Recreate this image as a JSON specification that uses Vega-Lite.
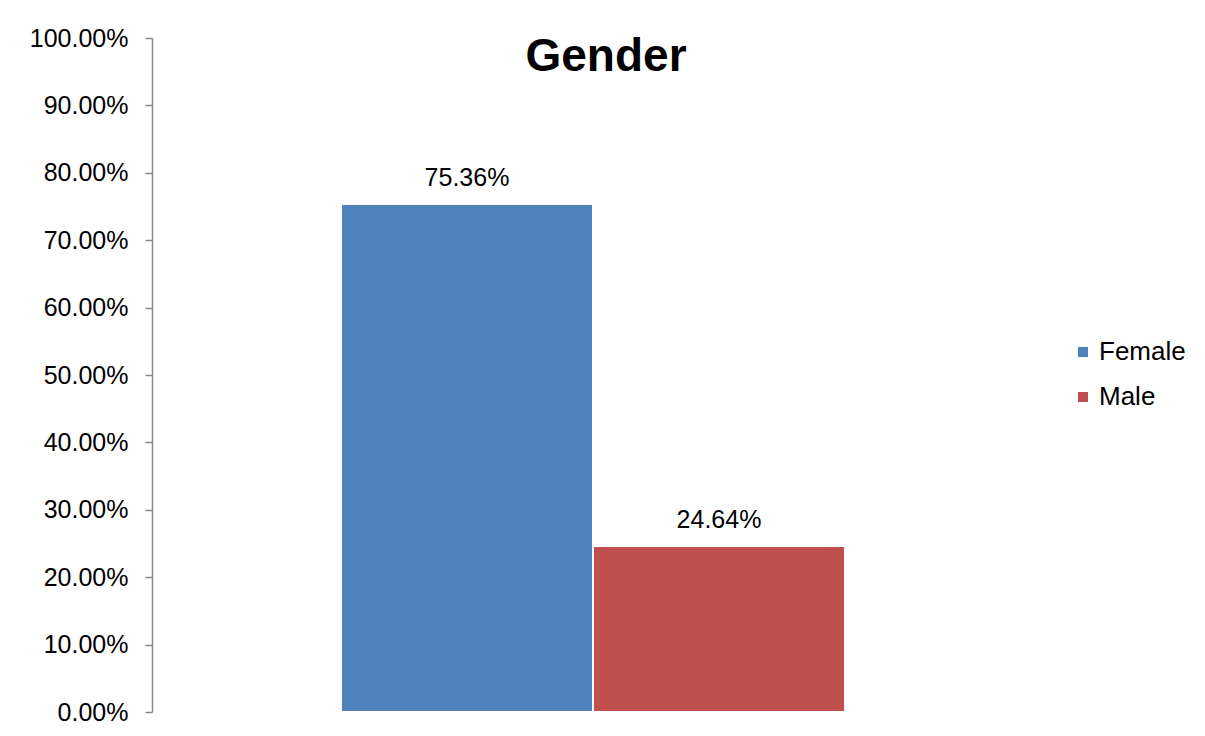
{
  "$schema": "https://vega.github.io/schema/vega-lite/v6.json",
  "autosize": "none",
  "width": 882,
  "height": 674,
  "padding": {"left": 152, "top": 38, "right": 171, "bottom": 24},
  "background": "white",
  "config": {
    "font": "Liberation Sans",
    "view": {"stroke": null}
  },
  "title": {
    "text": "Gender",
    "fontSize": 46,
    "fontWeight": "bold",
    "color": "black",
    "anchor": "middle",
    "frame": "group",
    "dx": 13,
    "offset": -55
  },
  "data": {
    "values": [
      {"gender": "Female", "value": 0.7536},
      {"gender": "Male", "value": 0.2464}
    ]
  },
  "encoding": {
    "x": {
      "field": "gender",
      "type": "nominal",
      "scale": {"domain": ["Female", "Male"], "paddingInner": 0, "paddingOuter": 0.75},
      "axis": null
    },
    "y": {
      "field": "value",
      "type": "quantitative",
      "scale": {"domain": [0, 1]},
      "axis": {
        "title": null,
        "format": ".2%",
        "values": [0, 0.1, 0.2, 0.3, 0.4, 0.5, 0.6, 0.7, 0.8, 0.9, 1],
        "grid": false,
        "labelFontSize": 25,
        "labelColor": "black",
        "labelPadding": 17,
        "tickSize": 7,
        "tickColor": "#888888",
        "domainColor": "#888888",
        "tickWidth": 1.5,
        "domainWidth": 1.5
      }
    }
  },
  "layer": [
    {
      "mark": {"type": "bar", "stroke": "white", "strokeWidth": 2},
      "encoding": {
        "color": {
          "field": "gender",
          "type": "nominal",
          "scale": {"domain": ["Female", "Male"], "range": ["#4F81BD", "#C0504D"]},
          "legend": {
            "title": null,
            "orient": "none",
            "legendX": 918,
            "legendY": 301,
            "symbolType": "square",
            "symbolSize": 100,
            "symbolStrokeWidth": 0,
            "labelFontSize": 26,
            "labelColor": "black",
            "labelOffset": 3,
            "rowPadding": 19
          }
        }
      }
    },
    {
      "mark": {"type": "text", "fontSize": 25, "color": "black", "baseline": "alphabetic", "dy": -18},
      "encoding": {
        "text": {"field": "value", "type": "quantitative", "format": ".2%"}
      }
    }
  ]
}
